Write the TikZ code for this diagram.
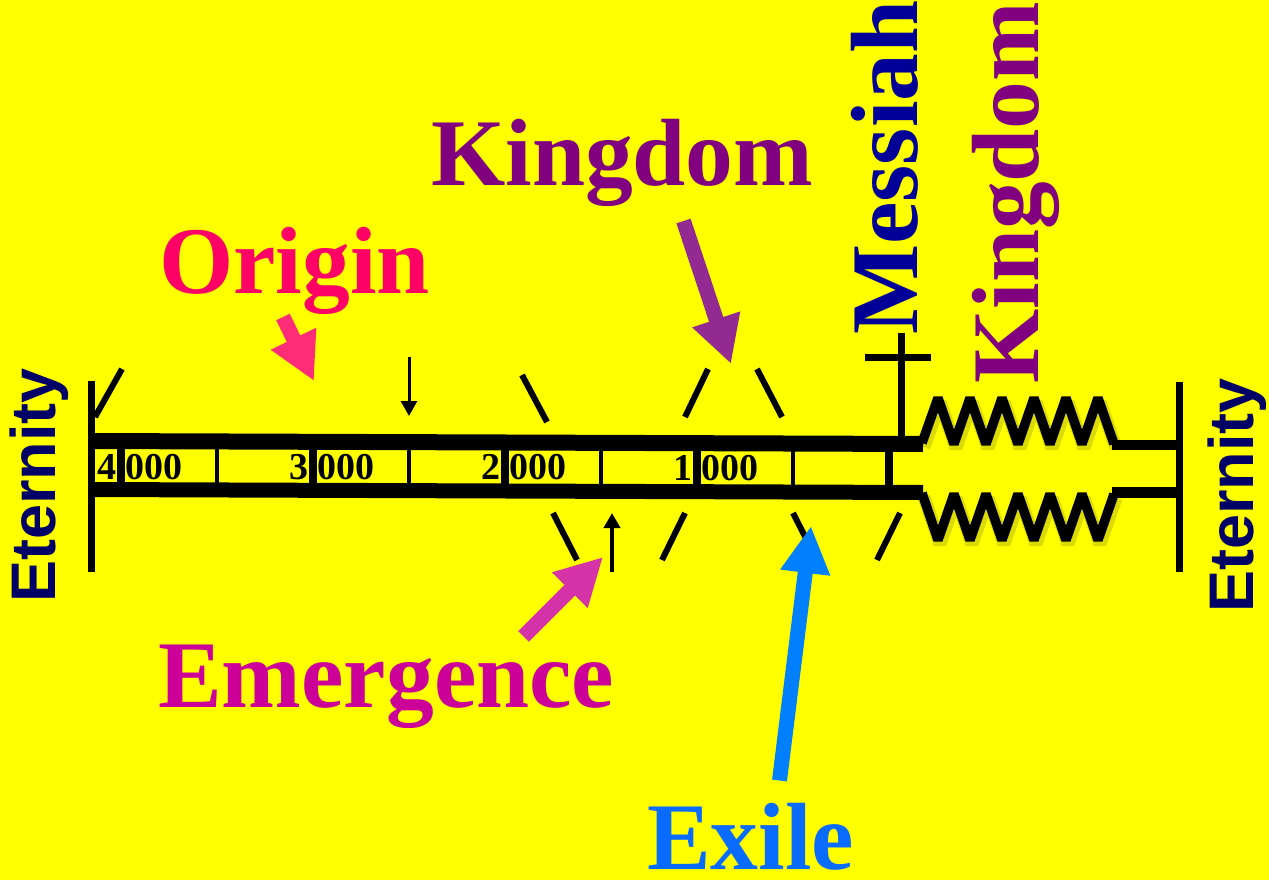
\documentclass[tikz,border=0pt]{standalone}
\usepackage{fontspec}
\setmainfont{Liberation Serif}
\newfontfamily\arialfont{Liberation Sans}
\usetikzlibrary{arrows.meta}
\definecolor{bgyellow}{HTML}{FFFF00}
\definecolor{origincol}{HTML}{FF0066}
\definecolor{originarrow}{HTML}{FF2D78}
\definecolor{kingcol}{HTML}{800080}
\definecolor{kingarrow}{HTML}{932A91}
\definecolor{messcol}{HTML}{000099}
\definecolor{eterncol}{HTML}{000066}
\definecolor{emergcol}{HTML}{CC0099}
\definecolor{emergarrow}{HTML}{D733A8}
\definecolor{exilecol}{HTML}{0A6BFF}
\definecolor{exilearrow}{HTML}{0080FF}
\definecolor{shadowcol}{HTML}{9A9A00}
\tikzset{
  bigtxt/.style={font=\fontsize{95.5}{100}\selectfont\bfseries, inner sep=0pt, anchor=base west},
  eterntxt/.style={font=\arialfont\bfseries\fontsize{63}{63}\selectfont, text=eterncol, inner sep=0pt, rotate=90, anchor=base west},
  digit/.style={font=\fontsize{38}{38}\selectfont\bfseries, inner sep=0pt},
  fatarrow/.style={line width=15pt, -{Triangle[width=47pt,length=47pt]}},
  thinarrow/.style={-{Triangle[width=16pt,length=15pt]}},
  tick/.style={line width=6pt},
  zig/.style={line width=9.5pt, line join=bevel},
  zigshadow/.style={line width=13pt, line join=bevel, shadowcol, opacity=0.35},
}
\begin{document}
\begin{tikzpicture}[x=1pt,y=-1pt]
\fill[bgyellow] (0,0) rectangle (1269,880);
\useasboundingbox (0,0) rectangle (1269,880);

% zigzag shadows
\begin{scope}[shift={(2,4)}]
\draw[zigshadow] (922,443) -- (938,398) -- (954,444) -- (970,398) -- (986,444) -- (1002,398) -- (1018,444) -- (1034,398) -- (1050,444) -- (1066,398) -- (1082,444) -- (1098,398) -- (1114,444);
\draw[zigshadow] (922,493) -- (938,540) -- (954,494) -- (970,540) -- (986,494) -- (1002,540) -- (1018,494) -- (1034,540) -- (1050,494) -- (1066,540) -- (1082,494) -- (1098,540) -- (1114,494);
\end{scope}

% timeline bar
\coordinate (tl) at (91,441);
\coordinate (tr) at (923,444);
\coordinate (bl) at (91,489.5);
\coordinate (br) at (923,492.5);
\draw[line width=16pt] (tl) -- (tr);
\draw[line width=15pt] (bl) -- (br);
\foreach \x/\w in {121/8,217/4,313/8,409/4,505/8,601/4,697/8,793/4,889/8}
  \draw[line width=\w pt] (\x,{441+(\x-91)*3/832}) -- (\x,{489.5+(\x-91)*3/832});
\foreach \k/\x in {4/121,3/313,2/505,1/697} {
  \node[digit, anchor=base east] (dk\k) at (\x-4,{479+(\x-91)*1.5/832}) {\k};
  \node[digit, anchor=base west] (dz\k) at (\x+4,{479+(\x-91)*1.5/832}) {000};
}

% end verticals
\draw[line width=7pt] (91,381) -- (91,572);
\draw[line width=7pt] (1179,382) -- (1179,572);

% cross
\draw[line width=7pt] (901,333) -- (901,440);
\draw[line width=7pt] (865,357) -- (931,357);

% zigzags
\draw[zig] (922,443) -- (938,398) -- (954,444) -- (970,398) -- (986,444) -- (1002,398) -- (1018,444) -- (1034,398) -- (1050,444) -- (1066,398) -- (1082,444) -- (1098,398) -- (1114,444);
\draw[zig] (922,493) -- (938,540) -- (954,494) -- (970,540) -- (986,494) -- (1002,540) -- (1018,494) -- (1034,540) -- (1050,494) -- (1066,540) -- (1082,494) -- (1098,540) -- (1114,494);
\draw[line width=10pt] (1112,445) -- (1179,445);
\draw[line width=11pt] (1112,492) -- (1179,492);

% diagonal ticks
\draw[tick] (95,417) -- (122,369);
\draw[tick] (522,375) -- (547,422);
\draw[tick] (685,417) -- (708,369);
\draw[tick] (757,369) -- (782,417);
\draw[tick] (553,513) -- (577,560);
\draw[tick] (685,513) -- (662,560);
\draw[tick] (793,513) -- (817,560);
\draw[tick] (900,513) -- (877,560);

% small arrows
\coordinate (sa1) at (409,357);
\coordinate (sa1t) at (409,416);
\coordinate (sa2) at (612,572);
\coordinate (sa2t) at (612,513);
\draw[thinarrow, line width=3pt] (sa1) -- (sa1t);
\draw[thinarrow, line width=4pt] (sa2) -- (sa2t);

% fat arrows
\coordinate (oa) at (283,317);
\coordinate (oat) at (314,381);
\coordinate (ka) at (683.5,221);
\coordinate (kat) at (731,364);
\coordinate (ea) at (523.5,636.5);
\coordinate (eat) at (603,557);
\coordinate (xa) at (779.5,780.5);
\coordinate (xat) at (811,526);
\draw[fatarrow, originarrow] (oa) -- (oat);
\draw[fatarrow, kingarrow] (ka) -- (kat);
\draw[fatarrow, emergarrow] (ea) -- (eat);
\draw[fatarrow, exilearrow] (xa) -- (xat);

% labels
\node[bigtxt, text=origincol] (origin) at (159,293) {Origin};
\node[bigtxt, text=kingcol] (kingdomh) at (431,185) {Kingdom};
\node[bigtxt, text=emergcol] (emerg) at (158,707) {Emergence};
\node[bigtxt, text=exilecol] (exile) at (647,869) {Exile};
\node[bigtxt, text=messcol, rotate=90] (messiah) at (917,335) {Messiah};
\node[bigtxt, text=kingcol, rotate=90] (kingdomv) at (1038,384) {Kingdom};
\node[eterntxt] (eternl) at (55,603) {Eternity};
\node[eterntxt] (eternr) at (1253,613) {Eternity};
\end{tikzpicture}
\end{document}
